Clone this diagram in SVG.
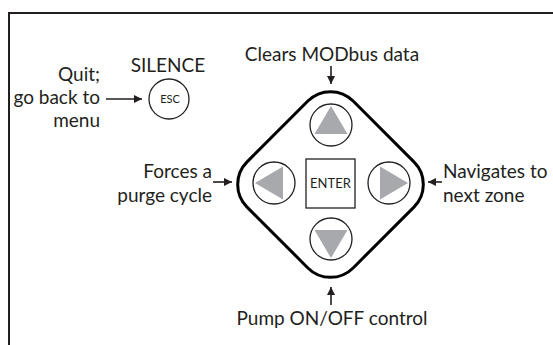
<svg xmlns="http://www.w3.org/2000/svg" width="553" height="345" viewBox="0 0 553 345">
<style>
text{font-family:Lato,"Open Sans","Liberation Sans",sans-serif;fill:#231f20}
.lbl{font-size:19px}
.btn{fill:#fff;stroke:#231f20;stroke-width:1.3}
.tri{fill:#a7a9ac}
.con{stroke:#231f20;stroke-width:1.6;fill:none}
</style>
<defs>
<marker id="ah" markerUnits="userSpaceOnUse" markerWidth="9" markerHeight="8" refX="8" refY="4" orient="auto">
<path d="M0,0 L8,4 L0,8 Z" fill="#231f20"/>
</marker>
</defs>
<rect width="553" height="345" fill="#fff"/>
<path d="M9,345 V13 H553" fill="none" stroke="#231f20" stroke-width="2"/>

<g id="pad">
<rect x="255.5" y="109.5" width="150" height="150" rx="32" fill="#fff" stroke="#000" stroke-width="3" transform="rotate(45 330.5 184.5)"/>
</g>
<g id="esc">
<text x="168" y="72" class="lbl" text-anchor="middle">SILENCE</text>
<circle class="btn" cx="169" cy="99" r="20"/>
<text x="170" y="103" font-size="11" text-anchor="middle">ESC</text>
</g>
<g id="up">
<circle class="btn" cx="331" cy="125" r="21"/>
<polygon class="tri" points="331,106 347.5,134 314.5,134"/>
</g>
<g id="down">
<circle class="btn" cx="331" cy="239" r="21"/>
<polygon class="tri" points="331,258 347.5,230 314.5,230"/>
</g>
<g id="left">
<circle class="btn" cx="274" cy="183" r="21"/>
<polygon class="tri" points="255,183 283,166.5 283,199.5"/>
</g>
<g id="right">
<circle class="btn" cx="389" cy="183" r="21"/>
<polygon class="tri" points="408,183 380,166.5 380,199.5"/>
</g>
<g id="enter">
<rect class="btn" x="306" y="159" width="49" height="49"/>
<text x="330.5" y="188" font-size="13" text-anchor="middle">ENTER</text>
</g>

<g id="labels">
<text class="lbl" x="100" y="81" text-anchor="end">Quit;</text>
<text class="lbl" x="100" y="104" text-anchor="end">go back to</text>
<text class="lbl" x="100" y="127" text-anchor="end">menu</text>
<text class="lbl" x="332" y="61" text-anchor="middle">Clears MODbus data</text>
<text class="lbl" x="212" y="178" text-anchor="end">Forces a</text>
<text class="lbl" x="212" y="202" text-anchor="end">purge cycle</text>
<text class="lbl" x="443" y="178">Navigates to</text>
<text class="lbl" x="443" y="202">next zone</text>
<text class="lbl" x="332" y="325" text-anchor="middle">Pump ON/OFF control</text>
</g>

<g id="connectors">
<line class="con" x1="106" y1="99" x2="142" y2="99" marker-end="url(#ah)"/>
<line class="con" x1="331" y1="66" x2="331" y2="84" marker-end="url(#ah)"/>
<line class="con" x1="213" y1="182" x2="232" y2="182" marker-end="url(#ah)"/>
<line class="con" x1="442" y1="182" x2="428" y2="182" marker-end="url(#ah)"/>
<line class="con" x1="331" y1="305" x2="331" y2="287" marker-end="url(#ah)"/>
</g>
</svg>
